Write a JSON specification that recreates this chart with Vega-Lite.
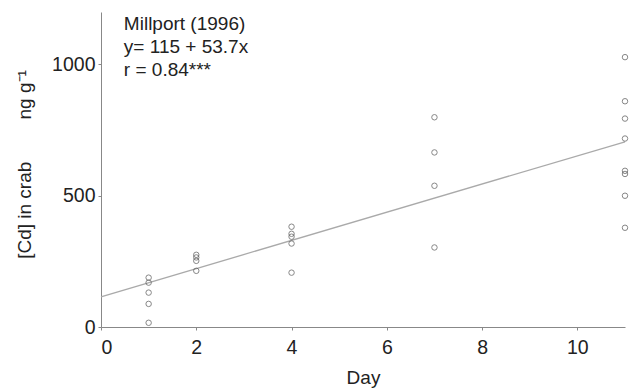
{
  "$schema": "https://vega.github.io/schema/vega-lite/v6.json",
  "width": 524,
  "height": 315,
  "autosize": {"type": "none"},
  "padding": {"left": 101, "top": 12, "right": 4, "bottom": 61},
  "background": "white",
  "config": {
    "view": {"stroke": null},
    "font": "Liberation Sans",
    "axis": {"labelFont": "Liberation Sans", "titleFont": "Liberation Sans", "labelFontSize": 19.5, "titleFontSize": 19, "titleFontWeight": "normal", "labelColor": "#222", "titleColor": "#222", "domainColor": "#888", "tickColor": "#888", "grid": false}
  },
  "datasets": {
    "pts": [
      {"day": 1, "cd": 188}, {"day": 1, "cd": 169}, {"day": 1, "cd": 131}, {"day": 1, "cd": 88}, {"day": 1, "cd": 16},
      {"day": 2, "cd": 275}, {"day": 2, "cd": 265}, {"day": 2, "cd": 252}, {"day": 2, "cd": 214},
      {"day": 4, "cd": 382}, {"day": 4, "cd": 355}, {"day": 4, "cd": 344}, {"day": 4, "cd": 318}, {"day": 4, "cd": 207},
      {"day": 7, "cd": 799}, {"day": 7, "cd": 665}, {"day": 7, "cd": 538}, {"day": 7, "cd": 303},
      {"day": 11, "cd": 1028}, {"day": 11, "cd": 860}, {"day": 11, "cd": 794}, {"day": 11, "cd": 718}, {"day": 11, "cd": 595}, {"day": 11, "cd": 583}, {"day": 11, "cd": 500}, {"day": 11, "cd": 378}
    ],
    "fit": [{"day": 0, "cd": 115}, {"day": 11, "cd": 705.7}],
    "notes": [
      {"day": 0.48, "cd": 1131, "label": "Millport (1996)"},
      {"day": 0.48, "cd": 1044, "label": "y= 115 + 53.7x"},
      {"day": 0.48, "cd": 956, "label": "r = 0.84***"}
    ]
  },
  "layer": [
    {
      "data": {"name": "fit"},
      "mark": {"type": "line", "color": "#aaa", "strokeWidth": 1.3},
      "encoding": {
        "x": {"field": "day", "type": "quantitative", "scale": {"domain": [0, 11]},
          "axis": {"values": [0, 2, 4, 6, 8, 10], "title": "Day", "tickSize": 3, "labelPadding": 8, "titlePadding": 12}},
        "y": {"field": "cd", "type": "quantitative", "scale": {"domain": [0, 1200]},
          "axis": {"values": [0, 500, 1000], "format": "d", "title": "[Cd] in crab\u00a0\u00a0\u00a0\u00a0\u00a0\u00a0\u00a0\u00a0ng g⁻¹", "tickSize": 3, "labelPadding": 3, "titlePadding": 17, "titleY": 152}}
      }
    },
    {
      "data": {"name": "pts"},
      "mark": {"type": "point", "shape": "circle", "filled": false, "size": 30, "stroke": "#555", "strokeWidth": 1},
      "encoding": {
        "x": {"field": "day", "type": "quantitative"},
        "y": {"field": "cd", "type": "quantitative"}
      }
    },
    {
      "data": {"name": "notes"},
      "mark": {"type": "text", "align": "left", "baseline": "alphabetic", "fontSize": 19, "color": "#222", "font": "Liberation Sans"},
      "encoding": {
        "x": {"field": "day", "type": "quantitative"},
        "y": {"field": "cd", "type": "quantitative"},
        "text": {"field": "label"}
      }
    }
  ]
}
